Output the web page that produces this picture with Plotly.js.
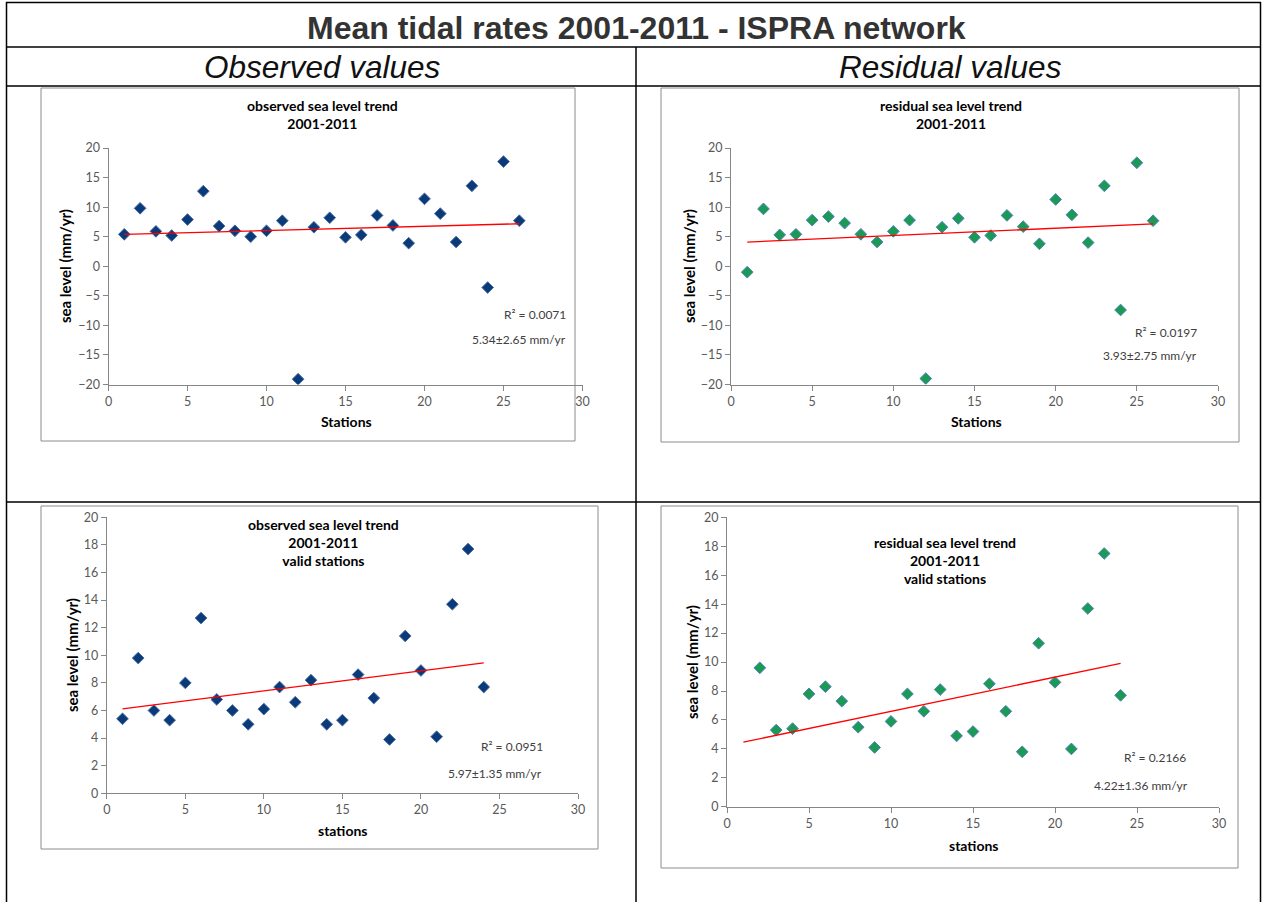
<!DOCTYPE html>
<html><head><meta charset="utf-8">
<script src="https://cdn.plot.ly/plotly-3.0.1.min.js"></script>
<style>html,body{margin:0;padding:0;background:#fff;}#chart{width:1262px;height:902px;}</style>
</head><body><div id="chart"></div>
<script>
const W = 1262, H = 902;

// ---------- data ----------
const stationsAll = [1,2,3,4,5,6,7,8,9,10,11,12,13,14,15,16,17,18,19,20,21,22,23,24,25,26];
const observedAll = [5.4,9.8,5.9,5.2,7.9,12.7,6.8,6.0,5.0,6.0,7.7,-19.1,6.6,8.2,4.9,5.3,8.6,6.9,3.9,11.4,8.9,4.1,13.6,-3.6,17.7,7.7];
const residualAll = [-1.0,9.7,5.3,5.4,7.8,8.4,7.3,5.4,4.1,5.9,7.8,-19.0,6.6,8.1,4.9,5.2,8.6,6.7,3.8,11.3,8.7,4.0,13.6,-7.4,17.5,7.7];

const stationsValid = [1,2,3,4,5,6,7,8,9,10,11,12,13,14,15,16,17,18,19,20,21,22,23,24];
const observedValid = [5.4,9.8,6.0,5.3,8.0,12.7,6.8,6.0,5.0,6.1,7.7,6.6,8.2,5.0,5.3,8.6,6.9,3.9,11.4,8.9,4.1,13.7,17.7,7.7];
const residualValid = [-1.0,9.6,5.3,5.4,7.8,8.3,7.3,5.5,4.1,5.9,7.8,6.6,8.1,4.9,5.2,8.5,6.6,3.8,11.3,8.6,4.0,13.7,17.5,7.7];

const r2Labels = ["R² = 0.0071","R² = 0.0197","R² = 0.0951","R² = 0.2166"];
const rateLabels = ["5.34±2.65 mm/yr","3.93±2.75 mm/yr","5.97±1.35 mm/yr","4.22±1.36 mm/yr"];
const chartTitles = [
  "observed sea level trend<br>2001-2011",
  "residual sea level trend<br>2001-2011",
  "observed sea level trend<br>2001-2011<br>valid stations",
  "residual sea level trend<br>2001-2011<br>valid stations"
];
const xTitles = ["Stations","Stations","stations","stations"];
const yTitle = "sea level (mm/yr)";
const mainTitle = "Mean tidal rates 2001-2011 - ISPRA network";
const colTitles = ["Observed values","Residual values"];

// ---------- helpers ----------
const px = v => v / W;
const py = v => 1 - v / H;
function fit(x, y) {
  const n = x.length;
  const mx = x.reduce((a,b)=>a+b,0)/n, my = y.reduce((a,b)=>a+b,0)/n;
  let sxy = 0, sxx = 0;
  for (let i=0;i<n;i++){ sxy += (x[i]-mx)*(y[i]-my); sxx += (x[i]-mx)*(x[i]-mx); }
  const b = sxy/sxx, a = my - b*mx;
  const x0 = x[0], x1 = x[n-1];
  return {x:[x0,x1], y:[a+b*x0, a+b*x1]};
}

const obsMarker = {symbol:'diamond', size:9, color:'#0b3a78', line:{color:'#4a6fa5', width:1}};
const resMarker = {symbol:'diamond', size:9, color:'#1a9a52', line:{color:'#4f81bd', width:1}};
const lineStyle = {color:'#ff0000', width:1.3};

const panels = [
  {x:stationsAll, y:observedAll, m:obsMarker, xa:'x', ya:'y'},
  {x:stationsAll, y:residualAll, m:resMarker, xa:'x2', ya:'y2'},
  {x:stationsValid, y:observedValid, m:obsMarker, xa:'x3', ya:'y3'},
  {x:stationsValid, y:residualValid, m:resMarker, xa:'x4', ya:'y4'}
];

const traces = [];
panels.forEach(p => {
  traces.push({type:'scatter', mode:'markers', x:p.x, y:p.y, marker:p.m, xaxis:p.xa, yaxis:p.ya, showlegend:false, cliponaxis:true, hoverinfo:'x+y'});
  const f = fit(p.x, p.y);
  traces.push({type:'scatter', mode:'lines', x:f.x, y:f.y, line:lineStyle, xaxis:p.xa, yaxis:p.ya, showlegend:false, hoverinfo:'skip'});
});

const excelFont = 'Lato, "Open Sans", sans-serif';
const tickFont = {family:excelFont, size:12.5, color:'#595959'};
function xax(d0, d1, anchor) {
  return {domain:[px(d0), px(d1)], anchor:anchor, range:[0,30], dtick:5, tick0:0,
    showline:true, linecolor:'#868686', linewidth:1, ticks:'outside', ticklen:5, tickcolor:'#868686',
    showgrid:false, zeroline:false, tickfont:tickFont, fixedrange:true};
}
function yax(t0, t1, r, dt, anchor) {
  return {domain:[py(t1), py(t0)], anchor:anchor, range:r, dtick:dt, tick0:0,
    showline:true, linecolor:'#868686', linewidth:1, ticks:'outside', ticklen:5, tickcolor:'#868686',
    showgrid:false, zeroline:false, tickfont:tickFont, fixedrange:true};
}

const shapes = [];
function hline(y, x0, x1, w, c){ shapes.push({type:'line', xref:'paper', yref:'paper', x0:px(x0), x1:px(x1), y0:py(y), y1:py(y), line:{color:c, width:w}}); }
function vline(x, y0, y1, w, c){ shapes.push({type:'line', xref:'paper', yref:'paper', x0:px(x), x1:px(x), y0:py(y0), y1:py(y1), line:{color:c, width:w}}); }
function box(x0,y0,x1,y1){ shapes.push({type:'rect', xref:'paper', yref:'paper', x0:px(x0), x1:px(x1), y0:py(y1), y1:py(y0), line:{color:'#8c8c8c', width:1}, fillcolor:'rgba(0,0,0,0)', layer:'below'}); }

// table lines
hline(2.5, 6, 1261, 1.5, '#000');
hline(47, 6, 1261, 1.5, '#000');
hline(86, 6, 1261, 1.5, '#000');
hline(502, 6, 1261, 1.5, '#000');
vline(6.5, 2, 902, 1.5, '#000');
vline(1260.5, 2, 902, 1.5, '#000');
vline(636, 47, 902, 1.5, '#000');

// chart area boxes
box(41, 88, 575, 441);
box(661, 88, 1239, 442);
box(41, 506, 598, 849);
box(661, 506, 1238, 868);

const ann = [];
function txt(x, y, s, opt) {
  ann.push(Object.assign({xref:'paper', yref:'paper', x:px(x), y:py(y), text:s, showarrow:false, xanchor:'center', yanchor:'middle'}, opt));
}
txt(636, 28, mainTitle, {font:{family:'"Liberation Sans", Arial, sans-serif', size:32, color:'#333333', weight:'bold'}});
txt(322, 67, colTitles[0], {font:{family:'"Liberation Sans", Arial, sans-serif', size:31.5, color:'#111', style:'italic'}});
txt(950, 67, colTitles[1], {font:{family:'"Liberation Sans", Arial, sans-serif', size:31.5, color:'#111', style:'italic'}});

const tFont = {family:excelFont, size:14, color:'#000', weight:'bold'};
txt(322, 115, chartTitles[0], {font:tFont});
txt(951, 115, chartTitles[1], {font:tFont});
txt(323, 542, chartTitles[2], {font:tFont});
txt(945, 560, chartTitles[3], {font:tFont});

const axFont = {family:excelFont, size:14, color:'#000', weight:'bold'};
const ayFont = {family:excelFont, size:15, color:'#000', weight:'bold'};
txt(346, 421, xTitles[0], {font:axFont});
txt(976, 421, xTitles[1], {font:axFont});
txt(342, 830, xTitles[2], {font:axFont});
txt(973, 845, xTitles[3], {font:axFont});
txt(65, 266, yTitle, {font:ayFont, textangle:-90});
txt(689, 266, yTitle, {font:ayFont, textangle:-90});
txt(72, 655, yTitle, {font:ayFont, textangle:-90});
txt(692, 662, yTitle, {font:ayFont, textangle:-90});

const aFont = {family:excelFont, size:12, color:'#404040'};
txt(568, 314, r2Labels[0], {font:aFont, xanchor:'right'});
txt(568, 339, rateLabels[0], {font:aFont, xanchor:'right'});
txt(1199, 332, r2Labels[1], {font:aFont, xanchor:'right'});
txt(1199, 355, rateLabels[1], {font:aFont, xanchor:'right'});
txt(545, 746, r2Labels[2], {font:aFont, xanchor:'right'});
txt(544, 773, rateLabels[2], {font:aFont, xanchor:'right'});
txt(1188, 757, r2Labels[3], {font:aFont, xanchor:'right'});
txt(1190, 785, rateLabels[3], {font:aFont, xanchor:'right'});

const layout = {
  width:W, height:H, margin:{l:0,r:0,t:0,b:0}, paper_bgcolor:'#fff', plot_bgcolor:'rgba(0,0,0,0)',
  showlegend:false, shapes:shapes, annotations:ann,
  xaxis: xax(108.5, 582.5, 'y'),
  yaxis: yax(148, 384.5, [-20,20], 5, 'x'),
  xaxis2: xax(731, 1218, 'y2'),
  yaxis2: yax(148, 384.5, [-20,20], 5, 'x2'),
  xaxis3: xax(106.8, 578, 'y3'),
  yaxis3: yax(517.3, 793.3, [0,20], 2, 'x3'),
  xaxis4: xax(727, 1219, 'y4'),
  yaxis4: yax(517.3, 806.8, [0,20], 2, 'x4')
};
Plotly.newPlot('chart', traces, layout, {displayModeBar:false, staticPlot:true});
</script></body></html>
